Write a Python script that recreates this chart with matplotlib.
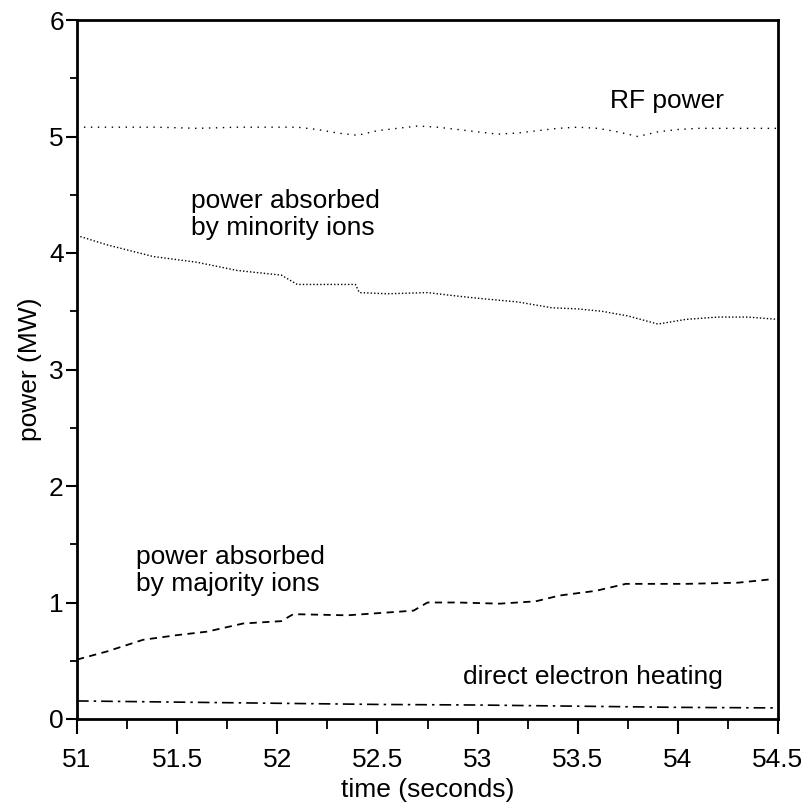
import matplotlib
matplotlib.use("Agg")
import matplotlib.pyplot as plt
from matplotlib import font_manager
from matplotlib.ticker import MultipleLocator

names = {f.name for f in font_manager.fontManager.ttflist}
fam = "Liberation Sans Narrow" if "Liberation Sans Narrow" in names else "Liberation Sans"
plt.rcParams['font.family'] = [fam, 'DejaVu Sans']

# ---- data ----
rf_t = [51.0, 51.2, 51.4, 51.6, 51.8, 52.0, 52.1, 52.2, 52.3, 52.4, 52.5, 52.6, 52.7,
        52.8, 52.9, 53.0, 53.1, 53.2, 53.3, 53.4, 53.5, 53.6, 53.7, 53.8, 53.9, 54.0,
        54.1, 54.2, 54.3, 54.4, 54.5]
rf_p = [5.08, 5.08, 5.08, 5.07, 5.08, 5.08, 5.08, 5.06, 5.03, 5.01, 5.05, 5.07, 5.09,
        5.08, 5.06, 5.04, 5.02, 5.03, 5.05, 5.07, 5.08, 5.07, 5.04, 5.0, 5.04, 5.06,
        5.07, 5.07, 5.07, 5.07, 5.07]

min_t = [51.0, 51.15, 51.38, 51.6, 51.8, 52.02, 52.07, 52.1, 52.39, 52.41, 52.55, 52.75,
         52.9, 53.01, 53.2, 53.37, 53.5, 53.62, 53.75, 53.9, 54.04, 54.2, 54.35, 54.5]
min_p = [4.15, 4.07, 3.97, 3.92, 3.85, 3.81, 3.76, 3.73, 3.73, 3.66, 3.65, 3.66,
         3.63, 3.61, 3.58, 3.53, 3.52, 3.50, 3.46, 3.39, 3.43, 3.45, 3.45, 3.43]

maj_t = [51.0, 51.15, 51.33, 51.5, 51.65, 51.83, 52.02, 52.08, 52.35, 52.68, 52.75,
         52.9, 53.11, 53.29, 53.41, 53.59, 53.74, 54.04, 54.3, 54.47]
maj_p = [0.51, 0.58, 0.68, 0.72, 0.75, 0.82, 0.84, 0.90, 0.89, 0.93, 1.00,
         1.00, 0.99, 1.01, 1.06, 1.10, 1.16, 1.16, 1.17, 1.20]

el_t = [51.0, 51.5, 52.0, 52.5, 53.0, 53.5, 54.0, 54.5]
el_p = [0.155, 0.145, 0.135, 0.125, 0.12, 0.11, 0.10, 0.095]

x_ticks = [51, 51.5, 52, 52.5, 53, 53.5, 54, 54.5]
x_labels = ["51", "51.5", "52", "52.5", "53", "53.5", "54", "54.5"]
y_ticks = [0, 1, 2, 3, 4, 5, 6]

fig = plt.figure(figsize=(8.07, 8.10), dpi=100)
ax = fig.add_axes([77 / 807, 1 - 719 / 810, 701 / 807, 699 / 810])

ax.plot(rf_t, rf_p, color='black', lw=1.0, linestyle=(0, (1, 4)))
ax.plot(min_t, min_p, color='black', lw=1.0, linestyle=(0, (1, 1.5)))
ax.plot(maj_t, maj_p, color='black', lw=1.3, linestyle=(0, (4, 3)))
ax.plot(el_t, el_p, color='black', lw=1.2, linestyle=(0, (7, 3, 1.5, 3)))

ax.set_xlim(51, 54.5)
ax.set_ylim(0, 6)
ax.set_xticks(x_ticks)
ax.set_xticklabels(x_labels)
ax.set_yticks(y_ticks)
ax.xaxis.set_minor_locator(MultipleLocator(0.25))
ax.yaxis.set_minor_locator(MultipleLocator(0.5))
ax.tick_params(axis='x', which='major', direction='out', length=11, width=1.5,
               labelsize=19, pad=10)
ax.tick_params(axis='x', which='minor', direction='out', length=7, width=1.3)
ax.tick_params(axis='y', which='major', direction='out', length=8, width=1.5,
               labelsize=19, pad=1.5)
ax.tick_params(axis='y', which='minor', direction='out', length=5, width=1.3)
for s in ax.spines.values():
    s.set_linewidth(2)

ax.set_xlabel("time (seconds)", fontsize=19, labelpad=4)
ax.set_ylabel("power (MW)", fontsize=19, labelpad=5)

fs = 19
ax.text(53.66, 5.245, "RF power", fontsize=fs, ha='left', va='baseline')
ax.text(51.567, 4.385, "power absorbed", fontsize=fs, ha='left', va='baseline')
ax.text(51.567, 4.153, "by minority ions", fontsize=fs, ha='left', va='baseline')
ax.text(51.294, 1.333, "power absorbed", fontsize=fs, ha='left', va='baseline')
ax.text(51.294, 1.10, "by majority ions", fontsize=fs, ha='left', va='baseline')
ax.text(52.926, 0.30, "direct electron heating", fontsize=fs, ha='left', va='baseline')

fig.savefig("out.png", dpi=100)
